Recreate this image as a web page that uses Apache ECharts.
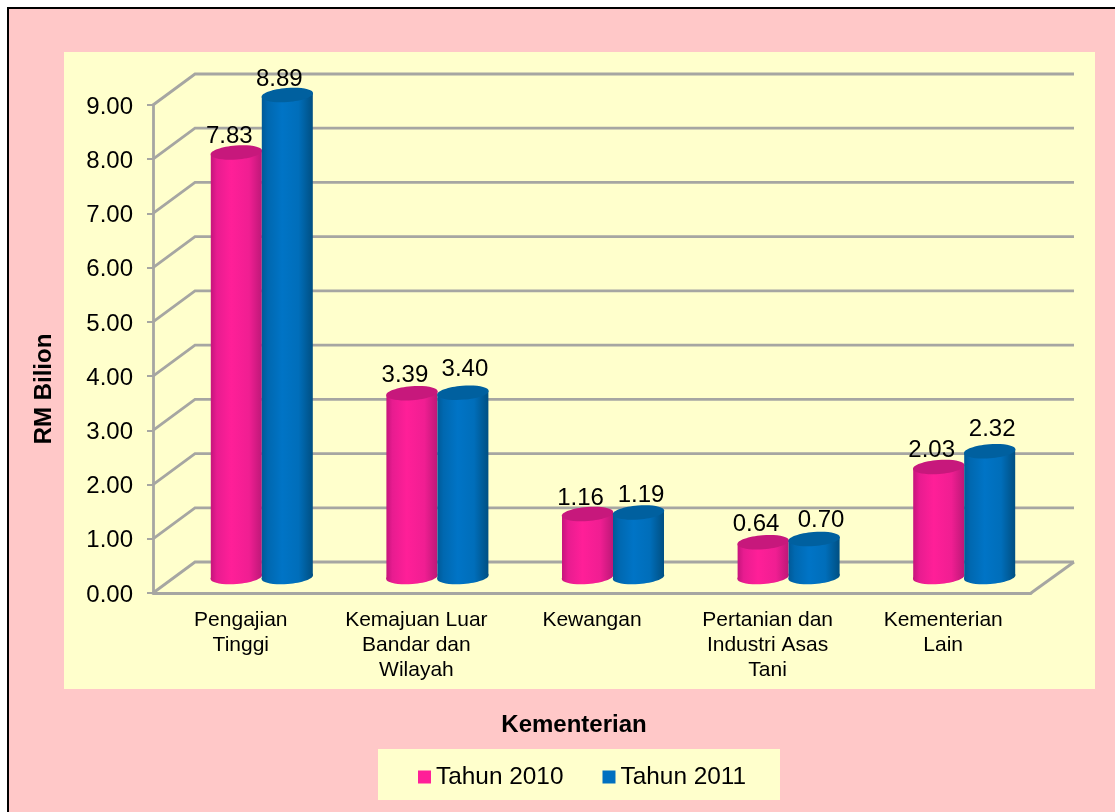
<!DOCTYPE html>
<html>
<head>
<meta charset="utf-8">
<style>html,body{margin:0;padding:0;background:#fff}#box{width:1115px;height:812px}</style>
<script src="https://cdn.jsdelivr.net/npm/echarts@6/dist/echarts.min.js"></script>
</head>
<body>
<div id="box"></div>
<script>
var categories = ['Pengajian\nTinggi', 'Kemajuan Luar\nBandar dan\nWilayah', 'Kewangan', 'Pertanian dan\nIndustri Asas\nTani', 'Kementerian\nLain'];
var tahun2010 = [7.83, 3.39, 1.16, 0.64, 2.03];
var tahun2011 = [8.89, 3.40, 1.19, 0.70, 2.32];
var yTicks = [0, 1, 2, 3, 4, 5, 6, 7, 8, 9];

// kedalaman 3D dalam piksel
var DEPTH_X = 42, DEPTH_Y = -31;
var BAR_DX = 21, BAR_DY = -16, BAR_HALF = 25.5, TILT = 2, ELL_RY = 7;
var FONT = '"Liberation Sans", Arial, sans-serif';
var GRID_COLOR = '#a6a6a2';

// label digeser sedikit macam dalam gambar asal
var shift2010 = [[-7, -16], [-7, -18], [-7, -16], [-7, -18], [-7, -17]];
var shift2011 = [[-8, -16], [2, -23], [2.5, -17], [7, -19], [2.5, -22]];

var chart = echarts.init(document.getElementById('box'));

function wall(params, api) {
    var c = params.coordSys;
    var y = api.coord([0, api.value(0)])[1];
    var x0 = c.x, x1 = c.x + c.width;
    var kids = [{
        type: 'polyline',
        shape: { points: [[x0, y], [x0 + DEPTH_X, y + DEPTH_Y], [x1 + DEPTH_X + 1, y + DEPTH_Y]] },
        style: { stroke: GRID_COLOR, lineWidth: 2.8, fill: null }
    }];
    if (api.value(0) === 0) {
        kids.push({
            type: 'line',
            shape: { x1: x1, y1: y, x2: x1 + DEPTH_X + 1, y2: y + DEPTH_Y },
            style: { stroke: GRID_COLOR, lineWidth: 2.8 }
        });
    }
    return { type: 'group', children: kids };
}

function cylinder(side, stops, topColor, shift) {
    return function (params, api) {
        var i = api.value(0);
        var p = api.coord([i, api.value(1)]);
        var p0 = api.coord([i, 0]);
        var cx = p[0] + BAR_DX + side * BAR_HALF;
        var top = p[1] + BAR_DY, bot = p0[1] + BAR_DY;
        var rot = Math.atan(TILT / BAR_HALF);
        var grad = new echarts.graphic.LinearGradient(0, 0, 1, 0, stops);
        return {
            type: 'group',
            children: [{
                type: 'ellipse', x: cx, y: bot, rotation: rot,
                shape: { cx: 0, cy: 0, rx: BAR_HALF + 0.3, ry: ELL_RY },
                style: { fill: grad }
            }, {
                type: 'polygon',
                shape: { points: [[cx - BAR_HALF, top + TILT], [cx + BAR_HALF, top - TILT], [cx + BAR_HALF, bot - TILT], [cx - BAR_HALF, bot + TILT]] },
                style: { fill: grad }
            }, {
                type: 'ellipse', x: cx, y: top, rotation: rot,
                shape: { cx: 0, cy: 0, rx: BAR_HALF + 0.3, ry: ELL_RY },
                style: { fill: topColor }
            }, {
                type: 'text',
                x: cx + shift[i][0], y: top + shift[i][1],
                z2: 50,
                style: {
                    text: api.value(1).toFixed(2), fill: '#000', font: '24px ' + FONT,
                    align: 'center', verticalAlign: 'middle'
                }
            }]
        };
    };
}

var pinkStops = [
    { offset: 0, color: '#c5157c' }, { offset: 0.12, color: '#e81c90' },
    { offset: 0.4, color: '#ff1f98' }, { offset: 0.75, color: '#f01e92' }, { offset: 1, color: '#bd1878' }
];
var blueStops = [
    { offset: 0, color: '#005a98' }, { offset: 0.12, color: '#0068b0' },
    { offset: 0.4, color: '#0074c6' }, { offset: 0.72, color: '#006eba' }, { offset: 1, color: '#004f82' }
];

var option = {
    animation: false,
    backgroundColor: '#fff',
    grid: { left: 153, right: 84, top: 105, height: 488 },
    legend: {
        data: ['Tahun 2010', 'Tahun 2011'],
        left: 418, top: 765,
        icon: 'rect', itemWidth: 13, itemHeight: 13, itemGap: 39, padding: 0,
        textStyle: { color: '#000', fontSize: 24.4, fontFamily: FONT }
    },
    xAxis: {
        type: 'category',
        data: categories,
        boundaryGap: true,
        axisLine: { lineStyle: { color: GRID_COLOR, width: 2.8 } },
        axisTick: { length: 7, lineStyle: { color: GRID_COLOR, width: 2 } },
        axisLabel: {
            interval: 0, color: '#000', fontSize: 21, fontFamily: FONT, lineHeight: 25, margin: 15
        }
    },
    yAxis: {
        type: 'value',
        min: 0, max: 9, interval: 1,
        splitLine: { show: false },
        axisLine: { show: true, lineStyle: { color: GRID_COLOR, width: 2.8 } },
        axisTick: { show: true, length: 6, lineStyle: { color: GRID_COLOR, width: 2 } },
        axisLabel: {
            margin: 20,
            formatter: function (v) { return '{a|' + v.toFixed(2) + '}'; },
            rich: { a: { color: '#000', fontSize: 24, fontFamily: FONT, padding: [4, 0, 0, 0] } }
        }
    },
    graphic: [
        { type: 'rect', z: -20, shape: { x: 8, y: 8, width: 1120, height: 820 }, style: { fill: '#ffc8c8', stroke: '#000', lineWidth: 2 } },
        { type: 'rect', z: -19, shape: { x: 64, y: 52, width: 1031, height: 637 }, style: { fill: '#ffffcc' } },
        { type: 'rect', z: -19, shape: { x: 378, y: 749, width: 402, height: 51 }, style: { fill: '#ffffcc' } },
        {
            type: 'text', z: 5, x: 574, y: 725,
            style: { text: 'Kementerian', fill: '#000', font: 'bold 24px ' + FONT, align: 'center', verticalAlign: 'middle' }
        },
        {
            type: 'text', z: 5, x: 44, y: 389, rotation: Math.PI / 2,
            style: { text: 'RM Bilion', fill: '#000', font: 'bold 24px ' + FONT, align: 'center', verticalAlign: 'middle' }
        }
    ],
    series: [
        {
            type: 'custom', name: 'wall', silent: true, z: 1,
            data: yTicks.map(function (v) { return [v]; }),
            encode: { y: 0 },
            renderItem: wall
        },
        {
            type: 'custom', name: 'Tahun 2010', z: 3,
            itemStyle: { color: '#ff1f98' },
            data: tahun2010.map(function (v, i) { return [i, v]; }),
            renderItem: cylinder(-1, pinkStops, '#c7187c', shift2010)
        },
        {
            type: 'custom', name: 'Tahun 2011', z: 4,
            itemStyle: { color: '#0070c0' },
            data: tahun2011.map(function (v, i) { return [i, v]; }),
            renderItem: cylinder(1, blueStops, '#00609f', shift2011)
        }
    ]
};
chart.setOption(option);
</script>
</body>
</html>
